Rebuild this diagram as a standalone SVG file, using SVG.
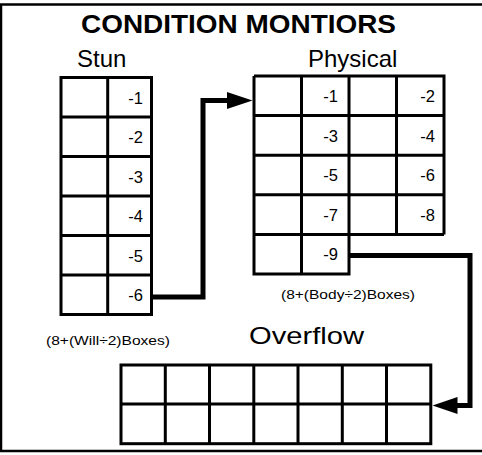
<svg xmlns="http://www.w3.org/2000/svg" width="482" height="455" viewBox="0 0 482 455">
<style>
text{font-family:"Liberation Sans",Arial,sans-serif;fill:#000}
.grid{fill:none;stroke:#000;stroke-width:3}
.conn{fill:none;stroke:#000;stroke-width:5;stroke-linejoin:miter}
.num{font-size:16.5px;text-anchor:end}
.lbl{font-size:12.5px;text-anchor:middle}
.hdr{font-size:24px}
</style>
<rect width="482" height="455" fill="#fff"/>
<rect x="1" y="4.5" width="490" height="446.5" fill="none" stroke="#000" stroke-width="2.5"/>
<g id="title"><text x="238.5" y="33" font-size="25" font-weight="bold" text-anchor="middle" textLength="315" lengthAdjust="spacingAndGlyphs">CONDITION MONTIORS</text></g>
<g id="stun">
<text class="hdr" x="77" y="67">Stun</text>
<rect class="grid" x="61" y="77.5" width="90.5" height="237"/>
<path class="grid" d="M107.7,77.5V314.5M61,117H151.5M61,156.5H151.5M61,196H151.5M61,235.5H151.5M61,275H151.5"/>
<text class="num" x="143" y="103.5">-1</text>
<text class="num" x="143" y="143">-2</text>
<text class="num" x="143" y="182.5">-3</text>
<text class="num" x="143" y="222">-4</text>
<text class="num" x="143" y="261.5">-5</text>
<text class="num" x="143" y="301">-6</text>
<text class="lbl" x="108" y="345" textLength="124" lengthAdjust="spacingAndGlyphs">(8+(Will÷2)Boxes)</text>
</g>
<g id="physical">
<text class="hdr" x="308" y="67">Physical</text>
<path class="grid" d="M254,76H444V234.4M254,76V274H349V76M301.5,76V274M396.5,76V234.4M254,115.6H444M254,155.2H444M254,194.8H444M254,234.4H444"/>
<text class="num" x="338" y="102">-1</text>
<text class="num" x="435" y="102">-2</text>
<text class="num" x="338" y="141.5">-3</text>
<text class="num" x="435" y="141.5">-4</text>
<text class="num" x="338" y="181">-5</text>
<text class="num" x="435" y="181">-6</text>
<text class="num" x="338" y="220.5">-7</text>
<text class="num" x="435" y="220.5">-8</text>
<text class="num" x="338" y="260">-9</text>
<text class="lbl" x="348" y="298.5" textLength="134" lengthAdjust="spacingAndGlyphs">(8+(Body÷2)Boxes)</text>
</g>
<g id="overflow">
<text x="306.5" y="344" font-size="24" text-anchor="middle" textLength="115" lengthAdjust="spacingAndGlyphs">Overflow</text>
<rect class="grid" x="121" y="365" width="309.8" height="78.7"/>
<path class="grid" d="M121,404H430.8M165.3,365V443.7M209.5,365V443.7M253.8,365V443.7M298,365V443.7M342.3,365V443.7M386.5,365V443.7"/>
</g>
<g id="connectors">
<path class="conn" d="M151.5,297H203V100.5H230"/>
<polygon points="252.5,100.5 227,92 227,109"/>
<path class="conn" d="M349,255.5H470V405.5H455"/>
<polygon points="432.5,405.5 457.5,397 457.5,414"/>
</g>
</svg>
